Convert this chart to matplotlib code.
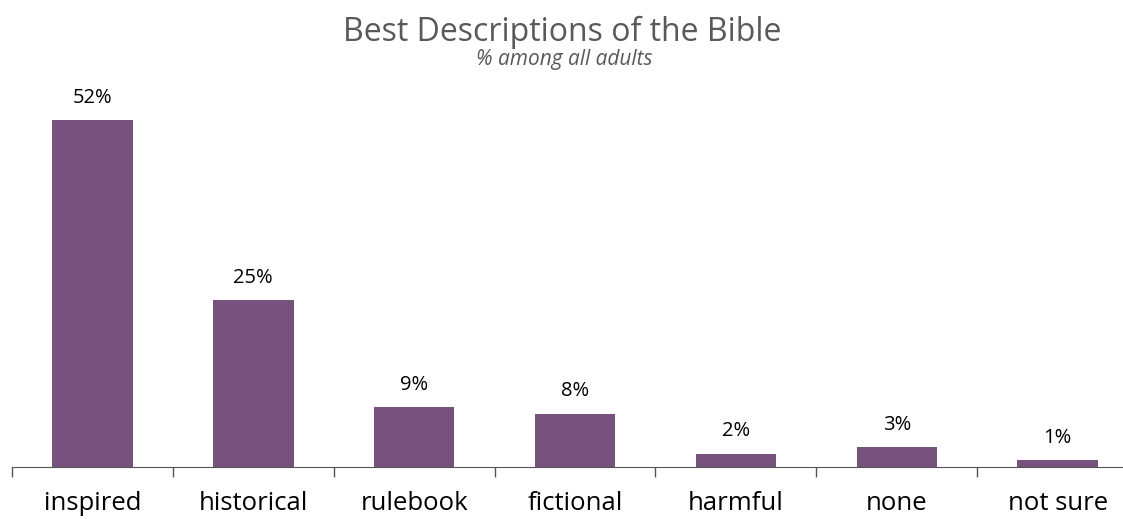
import matplotlib.pyplot as plt

# data
categories = ["inspired", "historical", "rulebook", "fictional", "harmful", "none", "not sure"]
values = [52, 25, 9, 8, 2, 3, 1]
labels = ["52%", "25%", "9%", "8%", "2%", "3%", "1%"]

BAR_COLOR = "#77527F"
plt.rcParams['font.family'] = ['Open Sans', 'DejaVu Sans']

fig = plt.figure(figsize=(11.23, 5.19), dpi=100)
W, H = 1123, 519
# axes spans past the right edge, as in the reference
ax = fig.add_axes([12 / W, 52 / H, 1126 / W, 400 / H])

x = range(len(categories))
ax.bar(x, values, width=0.5, color=BAR_COLOR)
for i, (v, lab) in enumerate(zip(values, labels)):
    ax.annotate(lab, (i, v), xytext=(0, 9), textcoords="offset points",
                ha="center", va="bottom", fontsize=14.5, color="black")

ax.set_xlim(-0.5, len(categories) - 0.5)
ax.set_ylim(0, 60)
for s in ["top", "right", "left"]:
    ax.spines[s].set_visible(False)
ax.spines["bottom"].set_color("#555555")
ax.set_yticks([])
ax.set_xticks([i - 0.5 for i in range(len(categories) + 1)])
ax.set_xticklabels([])
ax.tick_params(axis="x", length=7, color="#555555", width=1)
ax.set_xticks(list(x), minor=True)
ax.set_xticklabels(categories, minor=True, fontsize=18.5, color="black")
ax.tick_params(axis="x", which="minor", length=0, pad=17)

fig.text(562 / W, 1 - 32 / H, "Best Descriptions of the Bible", ha="center", va="center",
         fontsize=23, color="#595959")
fig.text(564 / W, 1 - 60 / H, "% among all adults", ha="center", va="center",
         fontsize=15, style="italic", color="#595959")

fig.savefig("out.png", dpi=100)
